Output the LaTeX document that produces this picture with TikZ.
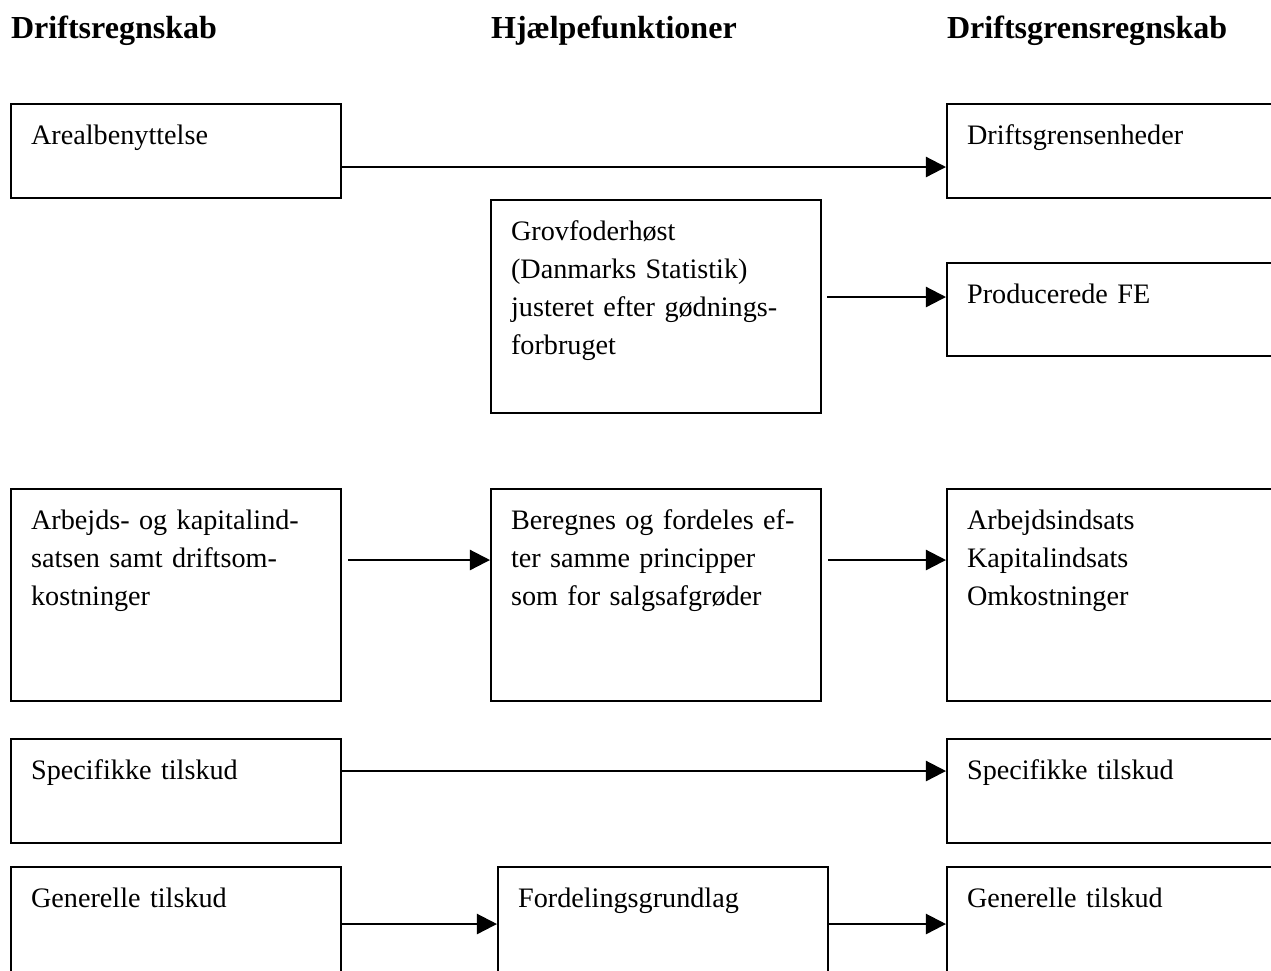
\documentclass[tikz,border=0pt]{standalone}
\usepackage{fontspec}
\setmainfont{Liberation Serif}
\usetikzlibrary{arrows.meta, positioning}

\tikzset{
  box/.style={draw, line width=0.8pt, anchor=north west, align=left,
    inner xsep=7.27pt, inner ysep=0pt, text height=14.6pt},
  narrow/.style={box, text width=105.4pt},
  wide/.style={box, text width=131pt},
  head/.style={anchor=base west, inner sep=0pt, font=\fontsize{11.65}{14}\selectfont\bfseries}
}

\begin{document}
\begin{tikzpicture}[->,>={Triangle[length=7.3pt,width=7.3pt]},line width=0.8pt,
        x=0.3636pt, y=-0.3636pt, font=\fontsize{10.25}{13.8}\selectfont]

  \clip (0,0) rectangle (1271,970);

  \node[head] (HeadDrift) at (10,38) {Driftsregnskab};
  \node[head] (HeadHjaelp) at (490,38) {Hjælpefunktioner};
  \node[head] (HeadGrens) at (946,38) {Driftsgrensregnskab};

  \node[narrow, text depth=19.6pt] (Areal) at (10,103) {Arealbenyttelse};
  \node[wide, text depth=19.6pt] (Enheder) at (946,103) {Driftsgrensenheder};

  \node[narrow, text depth=62.8pt] (Grovfoder) at (490,199)
    {Grovfoderhøst\\(Danmarks Statistik)\\justeret efter gødnings-\\forbruget};
  \node[wide, text depth=19.2pt] (ProdFE) at (946,262) {Producerede FE};

  \node[narrow, text depth=62.5pt] (Arbejde) at (10,488)
    {Arbejds- og kapitalind-\\satsen samt driftsom-\\kostninger};
  \node[narrow, text depth=62.5pt] (Beregnes) at (490,488)
    {Beregnes og fordeles ef-\\ter samme principper\\som for salgsafgrøder};
  \node[wide, text depth=62.5pt] (Indsats) at (946,488)
    {Arbejdsindsats\\Kapitalindsats\\Omkostninger};

  \node[narrow, text depth=23.2pt] (SpecL) at (10,738) {Specifikke tilskud};
  \node[wide, text depth=23.2pt] (SpecR) at (946,738) {Specifikke tilskud};

  \node[narrow, text depth=58.1pt] (GenL) at (10,866) {Generelle tilskud};
  \node[narrow, text depth=58.1pt] (Fordeling) at (497,866) {Fordelingsgrundlag};
  \node[wide, text depth=58.1pt] (GenR) at (946,866) {Generelle tilskud};

  \draw (Areal.east |- 0,167) -- (Enheder.west |- 0,167);
  \draw[shorten <=1.8pt] (Grovfoder.east |- 0,297) -- (ProdFE.west |- 0,297);
  \draw[shorten <=2.2pt] (Arbejde.east |- 0,560) -- (Beregnes.west |- 0,560);
  \draw[shorten <=2.2pt] (Beregnes.east |- 0,560) -- (Indsats.west |- 0,560);
  \draw (SpecL.east |- 0,771) -- (SpecR.west |- 0,771);
  \draw (GenL.east |- 0,924) -- (Fordeling.west |- 0,924);
  \draw (Fordeling.east |- 0,924) -- (GenR.west |- 0,924);

\end{tikzpicture}
\end{document}
